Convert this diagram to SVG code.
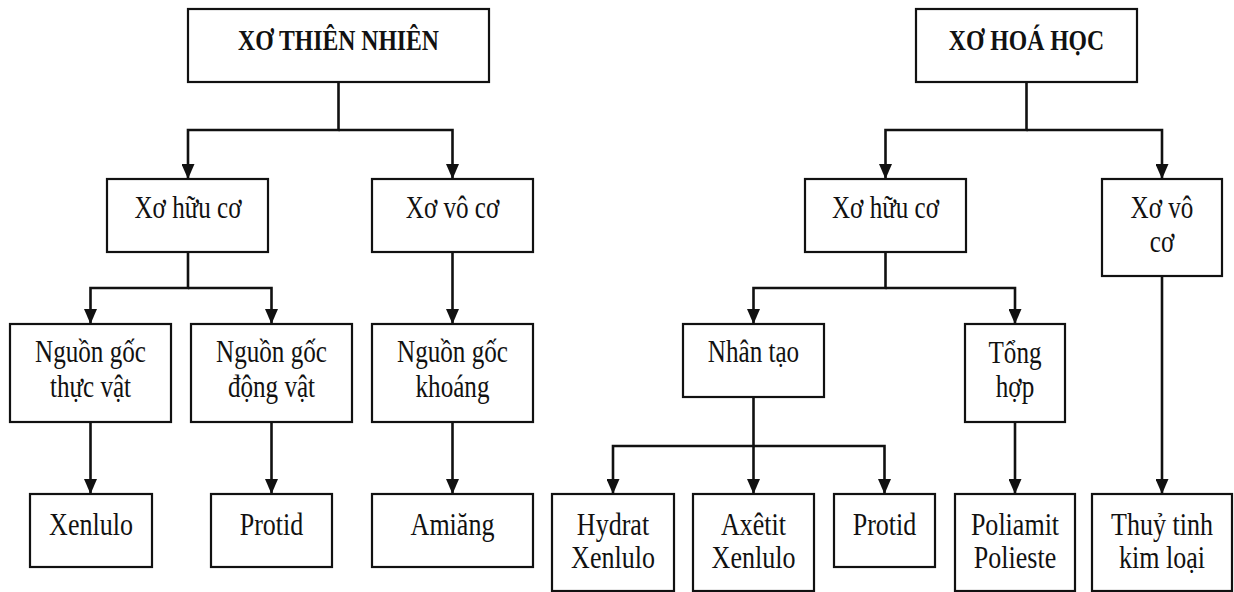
<svg xmlns="http://www.w3.org/2000/svg" width="1234" height="592" viewBox="0 0 1234 592">
<style>
.box{fill:#fff;stroke:#111;stroke-width:2.2}
.t{font-family:"Liberation Serif","Times New Roman","DejaVu Serif",serif;font-size:31px;fill:#111;text-anchor:middle}
.h{font-family:"Liberation Serif","Times New Roman","DejaVu Serif",serif;font-size:30px;font-weight:bold;fill:#111;text-anchor:middle}
.c{fill:none;stroke:#111;stroke-width:2.6}
</style>
<defs>
<marker id="arr" markerUnits="userSpaceOnUse" markerWidth="15" markerHeight="13" viewBox="0 0 15 13" refX="15" refY="6.5" orient="auto">
<path d="M0,0 L15,6.5 L0,13 z" fill="#111"/>
</marker>
</defs>
<rect width="1234" height="592" fill="#fff"/>
<g id="connectors">
<path class="c" d="M338.5 82 V130 H188 V179" marker-end="url(#arr)"/>
<path class="c" d="M338.5 130 H452.5 V179" marker-end="url(#arr)"/>
<path class="c" d="M188 252 V288 H90.5 V324" marker-end="url(#arr)"/>
<path class="c" d="M188 288 H271.5 V324" marker-end="url(#arr)"/>
<path class="c" d="M452.5 252 V324" marker-end="url(#arr)"/>
<path class="c" d="M90.5 422 V494" marker-end="url(#arr)"/>
<path class="c" d="M271.5 422 V494" marker-end="url(#arr)"/>
<path class="c" d="M452.5 422 V494" marker-end="url(#arr)"/>
<path class="c" d="M1026.5 82 V130 H885.5 V179" marker-end="url(#arr)"/>
<path class="c" d="M1026.5 130 H1162 V179" marker-end="url(#arr)"/>
<path class="c" d="M885.5 252 V288 H753.5 V324" marker-end="url(#arr)"/>
<path class="c" d="M885.5 288 H1015 V324" marker-end="url(#arr)"/>
<path class="c" d="M753.5 397 V446 H613 V494" marker-end="url(#arr)"/>
<path class="c" d="M753.5 446 V494" marker-end="url(#arr)"/>
<path class="c" d="M753.5 446 H884.5 V494" marker-end="url(#arr)"/>
<path class="c" d="M1015 422 V494" marker-end="url(#arr)"/>
<path class="c" d="M1162 276 V494" marker-end="url(#arr)"/>
</g>
<g id="xo-thien-nhien"><rect class="box" x="188" y="9" width="301" height="73"/><text class="h" transform="translate(338.5 50) scale(0.79 1)">XƠ THIÊN NHIÊN</text></g>
<g id="xo-hoa-hoc"><rect class="box" x="916" y="9" width="221" height="73"/><text class="h" transform="translate(1026.5 50) scale(0.79 1)">XƠ HOÁ HỌC</text></g>
<g id="tn-huu-co"><rect class="box" x="107" y="179" width="161" height="73"/><text class="t" transform="translate(188 218) scale(0.81 1)">Xơ hữu cơ</text></g>
<g id="tn-vo-co"><rect class="box" x="372" y="179" width="161" height="73"/><text class="t" transform="translate(452.5 218) scale(0.81 1)">Xơ vô cơ</text></g>
<g id="thuc-vat"><rect class="box" x="10" y="324" width="161" height="98"/><text class="t" transform="translate(90.5 362) scale(0.81 1)">Nguồn gốc</text><text class="t" transform="translate(90.5 397) scale(0.81 1)">thực vật</text></g>
<g id="dong-vat"><rect class="box" x="191" y="324" width="161" height="98"/><text class="t" transform="translate(271.5 362) scale(0.81 1)">Nguồn gốc</text><text class="t" transform="translate(271.5 397) scale(0.81 1)">động vật</text></g>
<g id="khoang"><rect class="box" x="372" y="324" width="161" height="98"/><text class="t" transform="translate(452.5 362) scale(0.81 1)">Nguồn gốc</text><text class="t" transform="translate(452.5 397) scale(0.81 1)">khoáng</text></g>
<g id="xenlulo"><rect class="box" x="30" y="494" width="122" height="73"/><text class="t" transform="translate(91 535) scale(0.84 1)">Xenlulo</text></g>
<g id="protid-1"><rect class="box" x="211" y="494" width="121" height="73"/><text class="t" transform="translate(271.5 535) scale(0.84 1)">Protid</text></g>
<g id="amiang"><rect class="box" x="372" y="494" width="161" height="73"/><text class="t" transform="translate(452.5 535) scale(0.84 1)">Amiăng</text></g>
<g id="hh-huu-co"><rect class="box" x="805" y="179" width="161" height="73"/><text class="t" transform="translate(885.5 218) scale(0.81 1)">Xơ hữu cơ</text></g>
<g id="hh-vo-co"><rect class="box" x="1102" y="179" width="120" height="97"/><text class="t" transform="translate(1162 218) scale(0.81 1)">Xơ vô</text><text class="t" transform="translate(1162 252) scale(0.81 1)">cơ</text></g>
<g id="nhan-tao"><rect class="box" x="683" y="324" width="141" height="73"/><text class="t" transform="translate(753.5 362) scale(0.81 1)">Nhân tạo</text></g>
<g id="tong-hop"><rect class="box" x="965" y="324" width="100" height="98"/><text class="t" transform="translate(1015 363) scale(0.81 1)">Tổng</text><text class="t" transform="translate(1015 397) scale(0.81 1)">hợp</text></g>
<g id="hydrat"><rect class="box" x="552" y="494" width="122" height="97"/><text class="t" transform="translate(613 535) scale(0.84 1)">Hydrat</text><text class="t" transform="translate(613 568) scale(0.84 1)">Xenlulo</text></g>
<g id="axetit"><rect class="box" x="693" y="494" width="121" height="97"/><text class="t" transform="translate(753.5 535) scale(0.84 1)">Axêtit</text><text class="t" transform="translate(753.5 568) scale(0.84 1)">Xenlulo</text></g>
<g id="protid-2"><rect class="box" x="834" y="494" width="101" height="73"/><text class="t" transform="translate(884.5 535) scale(0.84 1)">Protid</text></g>
<g id="poliamit"><rect class="box" x="955" y="494" width="120" height="97"/><text class="t" transform="translate(1015 535) scale(0.84 1)">Poliamit</text><text class="t" transform="translate(1015 568) scale(0.84 1)">Polieste</text></g>
<g id="thuy-tinh"><rect class="box" x="1092" y="494" width="140" height="97"/><text class="t" transform="translate(1162 535) scale(0.84 1)">Thuỷ tinh</text><text class="t" transform="translate(1162 568) scale(0.84 1)">kim loại</text></g>
</svg>
